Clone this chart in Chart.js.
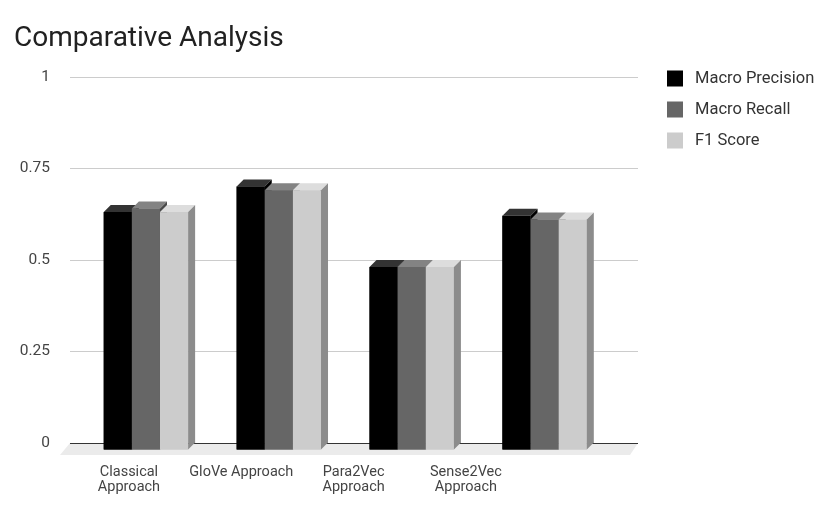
<!DOCTYPE html>
<html>
<head>
<meta charset="utf-8">
<title>Comparative Analysis</title>
<script src="https://cdn.jsdelivr.net/npm/chart.js@4.4.1/dist/chart.umd.min.js"></script>
<style>
  html, body { margin: 0; padding: 0; background: #fff; }
  canvas { display: block; }
</style>
</head>
<body>
<canvas id="chart" width="831" height="516"></canvas>
<script>
// data
const categories = [['Classical', 'Approach'], ['GloVe Approach'], ['Para2Vec', 'Approach'], ['Sense2Vec', 'Approach']];
const seriesNames = ['Macro Precision', 'Macro Recall', 'F1 Score'];
const macroPrecision = [0.65, 0.72, 0.50, 0.64];
const macroRecall = [0.66, 0.71, 0.50, 0.63];
const f1Score = [0.65, 0.71, 0.50, 0.63];
const yTickLabels = ['0', '0.25', '0.5', '0.75', '1'];

// look
const frontColors = ['#000000', '#666666', '#cccccc'];
const topColors = ['#333333', '#838383', '#dddddd'];
const sideColors = ['#000000', '#4a4a4a', '#8c8c8c'];
const depth = 7;
const fontFamily = 'Roboto';

const seriesValues = [macroPrecision, macroRecall, f1Score];

// fake 3D: floor, bar tops and sides, plus the legend on the right
const threeD = {
  id: 'threeD',
  beforeDraw(chart) {
    const { ctx, chartArea: a } = chart;
    ctx.save();
    ctx.fillStyle = '#ebebeb';
    ctx.beginPath();
    ctx.moveTo(a.left, a.bottom);
    ctx.lineTo(a.right, a.bottom);
    ctx.lineTo(a.right - 8, a.bottom + 12);
    ctx.lineTo(a.left - 10, a.bottom + 12);
    ctx.closePath();
    ctx.fill();
    ctx.restore();
  },
  beforeDatasetsDraw(chart) {
    chart.ctx.save();
    chart.ctx.translate(-depth, depth);
  },
  afterDatasetsDraw(chart) {
    const ctx = chart.ctx;
    for (let j = 0; j < categories.length; j++) {
      for (let i = 0; i < seriesValues.length; i++) {
        const bar = chart.getDatasetMeta(i).data[j];
        const { x, y, base, width } = bar.getProps(['x', 'y', 'base', 'width'], true);
        const l = x - width / 2, r = x + width / 2;
        ctx.fillStyle = frontColors[i];
        ctx.fillRect(l, y, width, base - y);
        ctx.fillStyle = topColors[i];
        ctx.beginPath();
        ctx.moveTo(l, y);
        ctx.lineTo(l + depth, y - depth);
        ctx.lineTo(r + depth, y - depth);
        ctx.lineTo(r, y);
        ctx.closePath();
        ctx.fill();
        ctx.fillStyle = sideColors[i];
        ctx.beginPath();
        ctx.moveTo(r, y);
        ctx.lineTo(r + depth, y - depth);
        ctx.lineTo(r + depth, base - depth);
        ctx.lineTo(r, base);
        ctx.closePath();
        ctx.fill();
      }
    }
    ctx.restore();
  },
  afterDraw(chart) {
    const ctx = chart.ctx;
    ctx.save();
    ctx.font = '16.5px ' + fontFamily;
    ctx.textBaseline = 'middle';
    ctx.textAlign = 'left';
    chart.data.datasets.forEach((ds, i) => {
      const cy = 78.5 + i * 31;
      ctx.fillStyle = ds.backgroundColor;
      ctx.fillRect(667, cy - 8, 16, 16);
      ctx.fillStyle = '#333333';
      ctx.fillText(ds.label, 695, cy);
    });
    ctx.restore();
  }
};

new Chart(document.getElementById('chart'), {
  type: 'bar',
  data: {
    datasets: seriesValues.map((vals, i) => ({
      label: seriesNames[i],
      data: vals.map((v, j) => ({ x: j, y: v })),
      backgroundColor: frontColors[i],
      borderWidth: 0,
      categoryPercentage: 0.635,
      barPercentage: 1
    }))
  },
  options: {
    responsive: false,
    animation: false,
    layout: { padding: { left: 14, right: 193, top: 0, bottom: 0 } },
    plugins: {
      legend: { display: false },
      tooltip: { enabled: false },
      title: {
        display: true,
        text: 'Comparative Analysis',
        align: 'start',
        color: '#212121',
        font: { family: fontFamily, size: 28, weight: 'normal' },
        padding: { top: 22, bottom: 21.4 }
      }
    },
    scales: {
      x: {
        type: 'linear',
        min: -0.624,
        max: 3.65,
        offset: false,
        display: false,
        ticks: { stepSize: 1, includeBounds: false }
      },
      x2: {
        type: 'linear',
        position: 'bottom',
        min: -0.525,
        max: 4.532,
        offset: false,
        grid: { display: false, offset: false },
        border: { display: false },
        ticks: {
          stepSize: 1,
          includeBounds: false,
          autoSkip: false,
          maxRotation: 0,
          padding: 14,
          color: '#444444',
          font: { family: fontFamily, size: 14.5, lineHeight: 1.05 },
          callback: (v) => categories[v] || ''
        },
        afterFit(s) { s.height = 73; }
      },
      y: {
        min: 0,
        max: 1,
        ticks: {
          stepSize: 0.25,
          padding: 20,
          color: '#444444',
          font: { family: fontFamily, size: 15.5 },
          callback: (v, i) => yTickLabels[i]
        },
        grid: {
          color: (c) => c.tick && c.tick.value === 0 ? '#333333' : '#cccccc',
          drawTicks: false
        },
        border: { display: false },
        afterFit(s) { s.width = 56; }
      }
    }
  },
  plugins: [threeD]
});
</script>
</body>
</html>
